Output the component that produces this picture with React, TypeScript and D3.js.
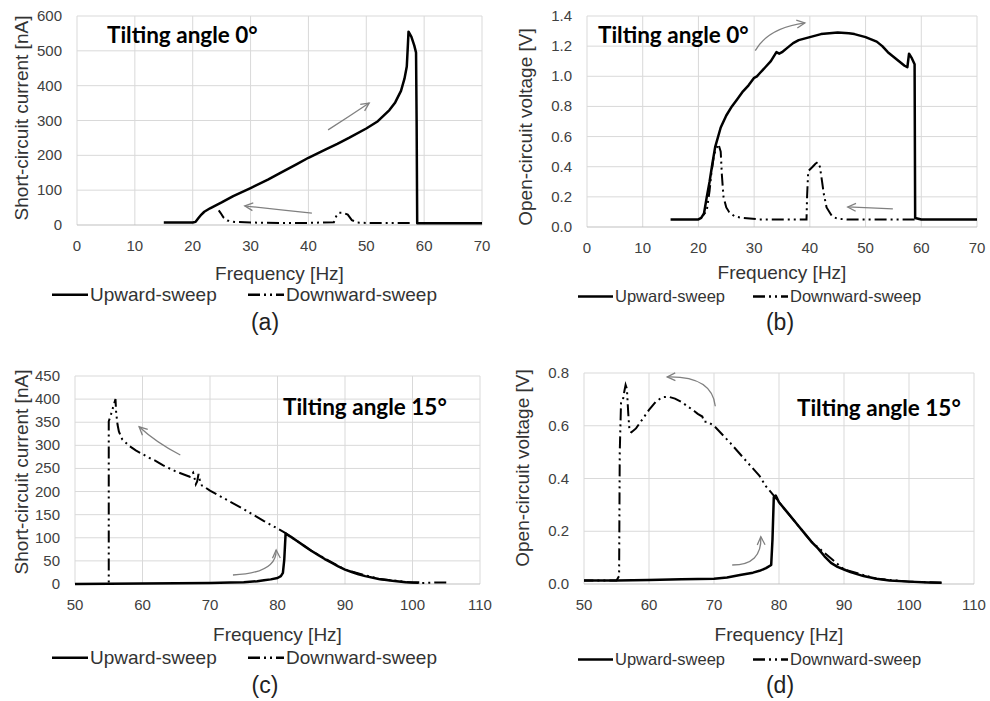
import React from 'react';
import * as d3 from 'd3';

type Pt = [number, number];

// ---------- data ----------
const xTicks0 = [0, 10, 20, 30, 40, 50, 60, 70];
const xTicks15 = [50, 60, 70, 80, 90, 100, 110];
const yTicksA = [0, 100, 200, 300, 400, 500, 600];
const yTicksB = [0, 0.2, 0.4, 0.6, 0.8, 1.0, 1.2, 1.4];
const yTicksC = [0, 50, 100, 150, 200, 250, 300, 350, 400, 450];
const yTicksD = [0, 0.2, 0.4, 0.6, 0.8];

const seriesNames = ['Upward-sweep', 'Downward-sweep'];
const xAxisTitle = 'Frequency [Hz]';
const currentTitle = 'Short-circuit current [nA]';
const voltageTitle = 'Open-circuit voltage [V]';
const title0 = 'Tilting angle 0°';
const title15 = 'Tilting angle 15°';
const captions = ['(a)', '(b)', '(c)', '(d)'];

const upA: Pt[] = [
  [15, 7], [18, 7], [20, 7], [20.5, 9], [21, 20], [21.5, 30], [22, 38], [23, 48], [25, 65], [27, 83],
  [30, 106], [33, 130], [35, 148], [38, 175], [40, 193], [43, 217], [45, 233], [47, 250], [50, 277],
  [52, 298], [54, 330], [55, 352], [56, 385], [56.6, 420], [57, 455], [57.2, 520], [57.3, 555],
  [57.8, 540], [58.3, 515], [58.6, 495], [58.7, 300], [58.8, 5], [60, 5], [65, 5], [70, 5],
];
const downA: Pt[] = [
  [57.5, 6], [50, 6], [48.5, 7], [47.5, 14], [46.8, 30], [46, 35], [45.3, 35], [44.8, 25], [44.4, 8],
  [40, 6], [35, 6], [30, 7], [27, 9], [26, 13], [25.3, 22], [24.8, 35], [24.5, 42],
];

const upB: Pt[] = [
  [15, 0.05], [18, 0.05], [20, 0.05], [20.5, 0.06], [21, 0.09], [21.5, 0.2], [22, 0.3], [22.5, 0.42],
  [23, 0.53], [24, 0.66], [25, 0.74], [26, 0.8], [27, 0.85], [28, 0.9], [29, 0.94], [30, 0.99],
  [30.5, 1.0], [31, 1.02], [32, 1.06], [33, 1.1], [34, 1.16], [34.5, 1.15], [35, 1.16], [36, 1.19],
  [37, 1.22], [38, 1.24], [40, 1.26], [42, 1.28], [45, 1.29], [47, 1.285], [48, 1.28], [50, 1.26],
  [52, 1.23], [53, 1.2], [54, 1.16], [55, 1.13], [56, 1.1], [57, 1.07], [57.5, 1.06], [57.8, 1.15],
  [58.3, 1.12], [58.8, 1.08], [58.9, 0.06], [60, 0.05], [65, 0.05], [70, 0.05],
];
const downB: Pt[] = [
  [58.8, 0.05], [50, 0.05], [46.6, 0.05], [45, 0.055], [44, 0.07], [43, 0.13], [42.5, 0.22],
  [42.2, 0.3], [41.8, 0.4], [41.4, 0.43], [41, 0.42], [40.5, 0.4], [39.7, 0.37], [39.5, 0.2],
  [39.4, 0.05], [35, 0.05], [31, 0.05], [28, 0.06], [26.5, 0.07], [25.5, 0.1], [25, 0.13],
  [24.5, 0.2], [24.2, 0.35], [24, 0.5], [23.6, 0.55], [23.2, 0.52], [22.8, 0.48], [22.3, 0.35],
  [22, 0.24], [21.5, 0.11], [20.9, 0.08],
];

const upC: Pt[] = [
  [50, 0], [55, 0.5], [60, 1], [65, 1.5], [70, 2], [73, 3], [75, 4], [77, 6], [78, 8], [79, 10],
  [80, 13], [80.5, 17], [80.8, 24], [81, 52], [81.2, 109], [82, 102], [83, 92], [84, 82], [85, 72],
  [86, 63], [87, 54], [88, 46], [89, 38], [90, 31], [91, 26], [92, 21], [93, 17], [95, 11], [97, 7],
  [99, 4], [100, 3], [101, 3],
];
const downC: Pt[] = [
  [105, 3], [103, 3], [101, 2], [100, 3], [95, 11], [90, 31], [85, 72], [82, 102], [81.2, 110],
  [80, 120], [78, 136], [75, 162], [72, 186], [70, 202], [69, 212], [68.8, 213], [68.5, 225],
  [68.3, 238], [68.1, 222], [67.9, 216], [67.7, 230], [67.5, 241], [67, 232], [65, 243], [63, 257],
  [62, 266], [61, 273], [60, 281], [59, 289], [58, 299], [57, 313], [56.5, 330], [56.3, 345],
  [56.1, 370], [56, 400], [55.7, 385], [55.3, 365], [55, 352], [55, 0], [52, 0], [50, 0],
];

const upD: Pt[] = [
  [50, 0.013], [55, 0.013], [60, 0.015], [65, 0.018], [70, 0.02], [72, 0.025], [74, 0.034],
  [76, 0.043], [77, 0.05], [78, 0.06], [78.8, 0.072], [79, 0.17], [79.2, 0.33], [79.5, 0.335],
  [80, 0.31], [81, 0.28], [82, 0.25], [83, 0.22], [84, 0.19], [85, 0.16], [86, 0.135], [87, 0.105],
  [88, 0.08], [89, 0.065], [90, 0.055], [91, 0.045], [93, 0.03], [95, 0.02], [97, 0.013],
  [100, 0.009], [103, 0.006], [105, 0.005],
];
const downD: Pt[] = [
  [105, 0.005], [100, 0.009], [95, 0.02], [90, 0.055], [85, 0.16], [82, 0.25], [80, 0.31],
  [79.2, 0.335], [78, 0.37], [77, 0.41], [75, 0.465], [72.5, 0.535], [70, 0.6], [69, 0.615],
  [68.5, 0.615], [68.2, 0.635], [67.5, 0.645], [67, 0.655], [65, 0.69], [64, 0.703], [63, 0.71],
  [62, 0.708], [61, 0.69], [60, 0.66], [59, 0.625], [58, 0.59], [57.3, 0.575], [57, 0.58],
  [56.8, 0.65], [56.6, 0.74], [56.4, 0.755], [56.2, 0.73], [56, 0.7], [55.7, 0.69], [55.5, 0.5],
  [55.4, 0.03], [55, 0.013], [50, 0.013],
];

// annotation arrows: [start, control, end] in data units
const arrowsA: Pt[][] = [
  [[43.4, 273], [47, 311], [50.5, 350]],
  [[40.6, 34], [34.8, 44], [29.0, 55]],
];
const arrowsB: Pt[][] = [
  [[30.2, 1.17], [32.5, 1.32], [39.1, 1.354]],
  [[54.9, 0.12], [50.8, 0.126], [46.8, 0.133]],
];
const arrowsC: Pt[][] = [
  [[65.6, 279], [62.1, 305], [59.5, 340]],
  [[73.4, 19.5], [79.9, 23.8], [79.8, 73.6]],
];
const arrowsD: Pt[][] = [
  [[70.2, 0.674], [69.7, 0.789], [62.8, 0.785]],
  [[72.8, 0.072], [77.4, 0.072], [77.2, 0.179]],
];

// ---------- styles ----------
const FONT = "'Liberation Sans', Arial, sans-serif";
const TITLE_FONT = "Lato, 'Open Sans', sans-serif";
const GRID = '#d9d9d9';
const TEXT = '#404040';
const DASH = '12,4,2,4,2,4';

interface PanelProps {
  box: { l: number; r: number; t: number; b: number };
  xDomain: [number, number];
  yDomain: [number, number];
  xTicks: number[];
  yTicks: number[];
  yFmt: (v: number) => string;
  up: Pt[];
  down: Pt[];
  yTitle: string;
  yTitlePos: [number, number];
  title: string;
  titlePos: [number, number];
  arrows: Pt[][];
  legend: { x: number; y: number; size: number; lineLen: number; gap: number };
  freqY: number;
  caption: string;
  captionPos: [number, number];
}

function Panel(p: PanelProps) {
  const x = d3.scaleLinear().domain(p.xDomain).range([p.box.l, p.box.r]);
  const y = d3.scaleLinear().domain(p.yDomain).range([p.box.b, p.box.t]);
  const line = d3.line<Pt>().x((d) => x(d[0])).y((d) => y(d[1]));

  const arrowPaths = p.arrows.map((a) => {
    const [s, c, e] = a.map((q) => [x(q[0]), y(q[1])] as Pt);
    const path = d3.path();
    path.moveTo(s[0], s[1]);
    path.quadraticCurveTo(c[0], c[1], e[0], e[1]);
    const ang = Math.atan2(e[1] - c[1], e[0] - c[0]);
    const L = 9;
    const spread = 0.45;
    const h1: Pt = [e[0] - L * Math.cos(ang - spread), e[1] - L * Math.sin(ang - spread)];
    const h2: Pt = [e[0] - L * Math.cos(ang + spread), e[1] - L * Math.sin(ang + spread)];
    const head = `M${h1[0]},${h1[1]}L${e[0]},${e[1]}L${h2[0]},${h2[1]}`;
    return { body: path.toString(), head };
  });

  const lg = p.legend;
  const cx = (p.box.l + p.box.r) / 2;

  return (
    <g>
      {p.xTicks.map((t) => (
        <line key={'gx' + t} x1={x(t)} x2={x(t)} y1={p.box.t} y2={p.box.b} stroke={GRID} strokeWidth={1} />
      ))}
      {p.yTicks.map((t) => (
        <line key={'gy' + t} x1={p.box.l} x2={p.box.r} y1={y(t)} y2={y(t)} stroke={t === 0 ? '#bfbfbf' : GRID} strokeWidth={1} />
      ))}
      {p.yTicks.map((t) => (
        <text key={'ty' + t} x={p.box.l - 15} y={y(t) + 5} textAnchor="end" fontSize={15} fill={TEXT} fontFamily={FONT}>
          {p.yFmt(t)}
        </text>
      ))}
      {p.xTicks.map((t) => (
        <text key={'tx' + t} x={x(t)} y={p.box.b + 26} textAnchor="middle" fontSize={15} fill={TEXT} fontFamily={FONT}>
          {t}
        </text>
      ))}
      <path d={line(p.down) || ''} fill="none" stroke="#000" strokeWidth={2} strokeDasharray={DASH} />
      <path d={line(p.up) || ''} fill="none" stroke="#000" strokeWidth={2.5} strokeLinejoin="round" />
      {arrowPaths.map((a, i) => (
        <g key={'ar' + i} stroke="#808080" strokeWidth={1.3} fill="none">
          <path d={a.body} />
          <path d={a.head} />
        </g>
      ))}
      <text x={p.titlePos[0]} y={p.titlePos[1]} fontSize={22.5} fontWeight={700} fontFamily={TITLE_FONT} fill="#000">
        {p.title}
      </text>
      <text
        transform={`translate(${p.yTitlePos[0]},${p.yTitlePos[1]}) rotate(-90)`}
        textAnchor="middle"
        fontSize={19}
        fill="#333"
        fontFamily={FONT}
      >
        {p.yTitle}
      </text>
      <text x={cx} y={p.freqY} textAnchor="middle" fontSize={19} fill="#333" fontFamily={FONT}>
        {xAxisTitle}
      </text>
      <g>
        <line x1={lg.x} x2={lg.x + lg.lineLen} y1={lg.y - lg.size * 0.33} y2={lg.y - lg.size * 0.33} stroke="#000" strokeWidth={2.5} />
        <text x={lg.x + lg.lineLen + 2} y={lg.y} fontSize={lg.size} fill="#333" fontFamily={FONT}>
          {seriesNames[0]}
        </text>
        <line
          x1={lg.x + lg.gap}
          x2={lg.x + lg.gap + lg.lineLen}
          y1={lg.y - lg.size * 0.33}
          y2={lg.y - lg.size * 0.33}
          stroke="#000"
          strokeWidth={2.5}
          strokeDasharray={DASH}
        />
        <text x={lg.x + lg.gap + lg.lineLen + 2} y={lg.y} fontSize={lg.size} fill="#333" fontFamily={FONT}>
          {seriesNames[1]}
        </text>
      </g>
      <text x={p.captionPos[0]} y={p.captionPos[1]} textAnchor="middle" fontSize={23} fill="#222" fontFamily={FONT}>
        {p.caption}
      </text>
    </g>
  );
}

const fmtInt = (v: number) => String(v);
const fmt1 = (v: number) => v.toFixed(1);

export default function App() {
  return (
    <div style={{ position: 'fixed', left: 0, top: 0 }}>
      <svg width={990} height={701} style={{ display: 'block', background: '#fff' }}>
        <Panel
          box={{ l: 77, r: 482, t: 16, b: 225 }}
          xDomain={[0, 70]}
          yDomain={[0, 600]}
          xTicks={xTicks0}
          yTicks={yTicksA}
          yFmt={fmtInt}
          up={upA}
          down={downA}
          yTitle={currentTitle}
          yTitlePos={[28, 118]}
          title={title0}
          titlePos={[107, 43]}
          arrows={arrowsA}
          legend={{ x: 52, y: 301, size: 19, lineLen: 36, gap: 196 }}
          freqY={280}
          caption={captions[0]}
          captionPos={[265, 330]}
        />
        <Panel
          box={{ l: 587, r: 977, t: 16, b: 227 }}
          xDomain={[0, 70]}
          yDomain={[0, 1.4]}
          xTicks={xTicks0}
          yTicks={yTicksB}
          yFmt={fmt1}
          up={upB}
          down={downB}
          yTitle={voltageTitle}
          yTitlePos={[532, 127]}
          title={title0}
          titlePos={[598, 43]}
          arrows={arrowsB}
          legend={{ x: 578, y: 302, size: 16.5, lineLen: 35, gap: 175 }}
          freqY={279}
          caption={captions[1]}
          captionPos={[780, 330]}
        />
        <Panel
          box={{ l: 75, r: 480, t: 376, b: 584 }}
          xDomain={[50, 110]}
          yDomain={[0, 450]}
          xTicks={xTicks15}
          yTicks={yTicksC}
          yFmt={fmtInt}
          up={upC}
          down={downC}
          yTitle={currentTitle}
          yTitlePos={[28, 472]}
          title={title15}
          titlePos={[283, 415]}
          arrows={arrowsC}
          legend={{ x: 52, y: 664, size: 19, lineLen: 36, gap: 196 }}
          freqY={641}
          caption={captions[2]}
          captionPos={[265, 693]}
        />
        <Panel
          box={{ l: 584, r: 974, t: 373, b: 584 }}
          xDomain={[50, 110]}
          yDomain={[0, 0.8]}
          xTicks={xTicks15}
          yTicks={yTicksD}
          yFmt={fmt1}
          up={upD}
          down={downD}
          yTitle={voltageTitle}
          yTitlePos={[529, 468]}
          title={title15}
          titlePos={[797, 416]}
          arrows={arrowsD}
          legend={{ x: 578, y: 665, size: 16.5, lineLen: 35, gap: 175 }}
          freqY={641}
          caption={captions[3]}
          captionPos={[780, 693]}
        />
      </svg>
    </div>
  );
}
